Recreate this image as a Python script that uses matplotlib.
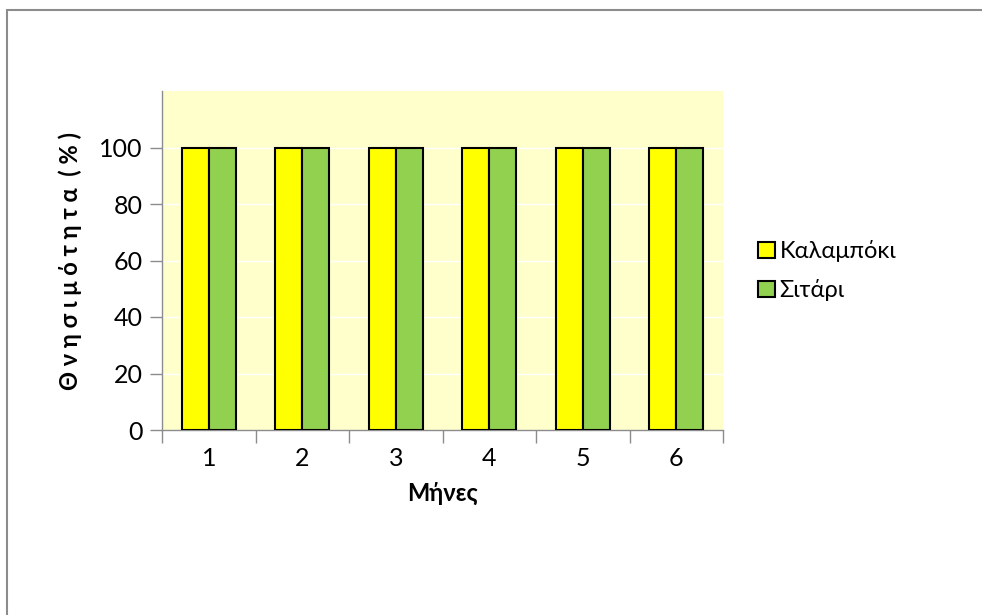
import matplotlib.pyplot as plt
import numpy as np
from matplotlib.patches import Rectangle

plt.rcParams['font.family'] = ['Lato', 'DejaVu Sans']

months = ['1', '2', '3', '4', '5', '6']
kalampoki = [100, 100, 100, 100, 100, 100]
sitari = [100, 100, 100, 100, 100, 100]
series_names = ['Καλαμπόκι', 'Σιτάρι']

fig = plt.figure(figsize=(9.82, 6.15), dpi=100)
# outer chart border
fig.patches.append(Rectangle((7 / 982, -0.1), 1.1, 1 - 10 / 615 + 0.1,
                             transform=fig.transFigure, fill=False,
                             edgecolor='#8c8c8c', linewidth=1.5))

ax = fig.add_axes([162 / 982, 1 - 430 / 615, (723 - 162) / 982, (430 - 91) / 615])
ax.set_facecolor('#FFFFCC')

x = np.arange(len(months))
w = 0.29
ax.bar(x - w / 2, kalampoki, w, color='#FFFF00', edgecolor='black', linewidth=1.5,
       label=series_names[0], zorder=3)
ax.bar(x + w / 2, sitari, w, color='#92D050', edgecolor='black', linewidth=1.5,
       label=series_names[1], zorder=3)

ax.set_xlim(-0.5, len(months) - 0.5)
ax.set_ylim(0, 120)
ax.set_yticks(np.arange(0, 101, 20))
ax.yaxis.grid(True, color='white', linewidth=1, zorder=1)
ax.set_axisbelow(True)

ax.set_xticks(np.arange(-0.5, len(months), 1))
ax.set_xticklabels([])
ax.set_xticks(x, minor=True)
ax.set_xticklabels(months, minor=True)
ax.tick_params(axis='x', which='major', length=9, color='#8c8c8c', width=1)
ax.tick_params(axis='x', which='minor', length=0, pad=12, labelsize=18)
ax.tick_params(axis='y', length=9, color='#8c8c8c', width=1, labelsize=18, pad=5)

for s in ['top', 'right']:
    ax.spines[s].set_visible(False)
for s in ['left', 'bottom']:
    ax.spines[s].set_color('#8c8c8c')
    ax.spines[s].set_linewidth(1)

ax.set_xlabel('Μήνες', fontsize=17, fontweight='bold', labelpad=9)
ax.set_ylabel('Θ ν η σ ι μ ό τ η τ α  ( % )', fontsize=17, fontweight='bold', labelpad=12)

leg = ax.legend(loc='center left', bbox_to_anchor=(1.025, 0.47), frameon=False,
                fontsize=17, handlelength=0.7, handleheight=0.7,
                handletextpad=0.2, labelspacing=0.72)

fig.savefig('out.png', dpi=100)
